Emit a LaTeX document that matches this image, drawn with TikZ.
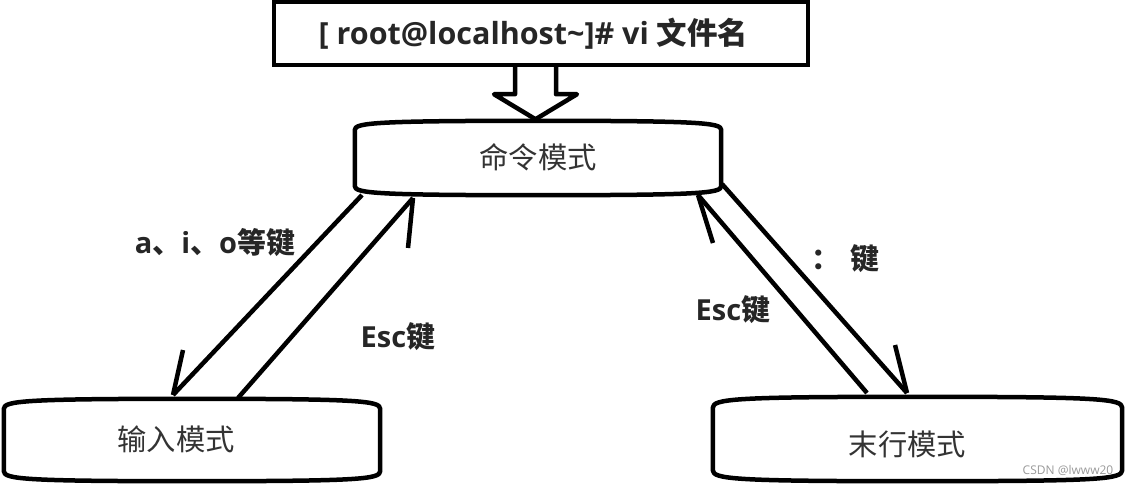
\documentclass[tikz,border=0pt]{standalone}
\usepackage{fontspec}
\setmainfont{Open Sans}
\newfontfamily\cjk{Noto Sans CJK SC}
\usetikzlibrary{calc}

\newcommand{\modeoutline}[2]{%
  \draw[boxline] ($(#1.north west)+(0,#2)$)
    .. controls ($(#1.north west)+(0,2)$) and ($(#1.north west)+(22,0)$) .. (#1.north)
    .. controls ($(#1.north east)+(-22,0)$) and ($(#1.north east)+(0,2)$) .. ($(#1.north east)+(0,#2)$)
    -- ($(#1.south east)+(0,-#2)$)
    .. controls ($(#1.south east)+(0,-2)$) and ($(#1.south east)+(-22,0)$) .. (#1.south)
    .. controls ($(#1.south west)+(22,0)$) and ($(#1.south west)+(0,-2)$) .. ($(#1.south west)+(0,-#2)$)
    -- cycle;}

\begin{document}
\begin{tikzpicture}[x=1pt,y=-1pt,
  boxline/.style={line width=4.5pt, draw=black, line join=round},
  link/.style={line width=4.5pt, draw=black},
  modebox/.style={inner sep=0pt, font=\cjk\fontsize{29.3}{31}\selectfont, text=black!80, text height=25.5pt, text depth=4pt},
  keylabel/.style={font=\bfseries\fontsize{29}{31}\selectfont, text=black!85, inner sep=0pt},
  topbox/.style={draw=black, line width=4.5pt, inner sep=0pt, font=\bfseries\fontsize{30.5}{32}\selectfont, text=black!85}]

\useasboundingbox (0,0) rectangle (1126,486);

% top command box
\node[topbox, minimum width=534pt, minimum height=63pt] (top) at (541,33.5)
  {\hspace*{-15pt}[ root@localhost\textasciitilde]\# vi {\cjk 文件名}};

% mode boxes
\node[modebox, minimum width=366pt, minimum height=74pt] (cmd) at (538,158) {命令模式};
\node[modebox, minimum width=376pt, minimum height=82pt] (input) at (192,440) {\hspace*{-32pt}输入模式};
\node[modebox, minimum width=409pt, minimum height=84pt, text height=37.5pt] (last) at (917.5,439) {\hspace*{-20pt}末行模式};
\modeoutline{cmd}{9}
\modeoutline{input}{10}
\modeoutline{last}{11}

% hollow arrow from top box to command mode
\coordinate (ha) at (top.south -| 535.5,0);
\draw[boxline] (ha) ++(-20.5,0) -- ++(0,27) -- ++(-21,0) -- ++(41.5,25) -- ++(41.5,-25) -- ++(-21,0) -- ++(0,-27);

% connector end points
\coordinate (c1) at (362,195);  \coordinate (i1) at (173,395);
\coordinate (i2) at (238,398);  \coordinate (c2) at (413,198);
\coordinate (l1) at (867,393);  \coordinate (c3) at (698,195);
\coordinate (c4) at (722,184);  \coordinate (l2) at (907,393);

% command -> input
\draw[link] (c1) -- (i1);
\draw[link] (i1) -- ++(10,-45);
% input -> command (Esc)
\draw[link] (i2) -- (c2);
\draw[link] (c2) -- ++(-5,50);
% last line -> command (Esc)
\draw[link] (l1) -- (c3);
\draw[link] (c3) -- ++(15,48);
% command -> last line
\draw[link] (c4) -- (l2);
\draw[link] (l2) -- ++(-12,-48);

% labels
\node[keylabel] (laio) at (215,243) {a{\cjk 、}i{\cjk 、}o{\cjk 等键}};
\node[keylabel] (lesc1) at (398,337) {Esc{\cjk 键}};
\node[keylabel] (lesc2) at (733,310) {Esc{\cjk 键}};
\node[keylabel, anchor=west] (lcolon) at (811,259) {{\cjk ：}\hspace{10pt}{\cjk 键}};

% watermark
\node[font=\fontsize{12}{12}\selectfont, text=black!40, inner sep=0pt] (wm) at (1068,470) {CSDN @lwww20};
\end{tikzpicture}
\end{document}
